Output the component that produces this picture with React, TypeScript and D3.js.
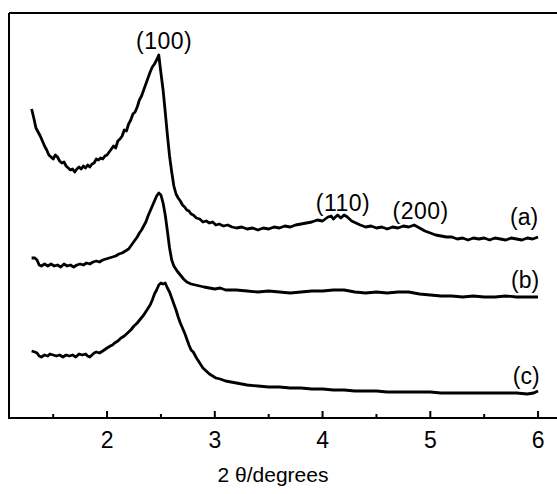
import React from 'react'
import * as d3 from 'd3'

// 2θ (degrees) and intensity (a.u.)
const thetaA = [1.30,1.32,1.34,1.36,1.38,1.40,1.42,1.44,1.46,1.48,1.50,1.52,1.54,1.56,1.58,1.60,1.62,1.64,1.66,1.68,1.70,1.72,1.74,1.76,1.78,1.80,1.82,1.84,1.86,1.88,1.90,1.92,1.94,1.96,1.98,2.00,2.02,2.04,2.06,2.08,2.10,2.12,2.14,2.16,2.18,2.20,2.22,2.24,2.26,2.28,2.30,2.32,2.34,2.36,2.38,2.40,2.42,2.44,2.46,2.48,2.50,2.52,2.54,2.56,2.58,2.60,2.62,2.64,2.66,2.68,2.70,2.72,2.74,2.76,2.78,2.80,2.83,2.86,2.89,2.92,2.95,2.98,3.01,3.04,3.08,3.12,3.16,3.20,3.25,3.30,3.35,3.40,3.45,3.50,3.55,3.60,3.65,3.70,3.75,3.80,3.85,3.90,3.95,4.00,4.05,4.08,4.10,4.14,4.17,4.20,4.23,4.27,4.31,4.35,4.40,4.45,4.50,4.55,4.60,4.65,4.70,4.75,4.80,4.85,4.90,4.95,5.00,5.05,5.10,5.15,5.20,5.25,5.30,5.35,5.40,5.45,5.50,5.55,5.60,5.65,5.70,5.75,5.80,5.85,5.90,5.95,6.00]
const countsA = [309,300,290,286,282,277,272,268,263,261,259,263,261,257,255,256,252,250,248,249,246,249,251,249,252,250,253,251,254,255,259,258,260,259,262,263,266,269,272,270,277,279,282,288,287,294,298,304,306,311,318,322,328,334,340,346,351,354,358,363,345,328,306,283,262,246,232,224,220,217,213,211,208,207,204,203,200,199,196,197,195,196,193,194,192,193,191,190,191,189,190,188,190,189,191,190,192,191,193,194,195,196,198,197,201,202,199,203,200,203,201,197,195,193,191,192,190,191,189,191,190,192,191,193,190,187,185,183,182,181,181,179,180,178,180,179,180,178,180,179,178,180,179,178,180,179,181]

const thetaB = [1.30,1.33,1.35,1.37,1.39,1.42,1.45,1.48,1.51,1.54,1.57,1.60,1.63,1.66,1.69,1.72,1.75,1.78,1.81,1.84,1.87,1.90,1.93,1.96,1.99,2.02,2.05,2.08,2.11,2.14,2.17,2.20,2.22,2.24,2.26,2.28,2.30,2.32,2.34,2.36,2.38,2.40,2.42,2.44,2.46,2.48,2.50,2.52,2.54,2.56,2.58,2.60,2.62,2.65,2.68,2.71,2.74,2.78,2.82,2.86,2.90,2.95,3.00,3.05,3.10,3.20,3.30,3.40,3.50,3.60,3.70,3.80,3.90,4.00,4.10,4.20,4.30,4.40,4.50,4.60,4.70,4.80,4.90,5.00,5.10,5.20,5.30,5.40,5.50,5.60,5.70,5.80,5.90,6.00]
const countsB = [160,160,158,153,152,154,152,154,152,153,151,154,152,153,151,153,154,153,155,154,156,157,156,158,159,160,161,162,164,165,167,169,172,175,178,181,185,188,192,196,202,207,212,217,222,225,223,215,203,187,170,158,152,147,143,139,136,134,133,132,131,130,129,130,128,128,127,126,127,126,125,126,127,127,128,128,126,125,126,125,126,126,124,123,122,122,121,122,121,121,122,121,121,121]

const thetaC = [1.30,1.33,1.35,1.37,1.39,1.42,1.45,1.47,1.50,1.53,1.56,1.59,1.62,1.65,1.68,1.71,1.74,1.77,1.80,1.82,1.84,1.86,1.88,1.90,1.93,1.96,2.00,2.03,2.05,2.07,2.10,2.13,2.16,2.19,2.22,2.25,2.28,2.31,2.34,2.37,2.40,2.42,2.44,2.46,2.48,2.50,2.52,2.54,2.56,2.58,2.60,2.62,2.64,2.66,2.68,2.70,2.72,2.74,2.76,2.78,2.80,2.83,2.86,2.89,2.92,2.95,2.98,3.01,3.05,3.10,3.15,3.20,3.25,3.30,3.40,3.50,3.60,3.70,3.80,3.90,4.00,4.10,4.20,4.30,4.40,4.50,4.60,4.70,4.80,4.90,5.00,5.10,5.20,5.30,5.40,5.50,5.60,5.70,5.80,5.90,5.96,6.00]
const countsC = [67,66,65,62,61,63,62,64,63,62,63,61,63,62,63,61,64,63,64,62,61,63,65,66,65,67,70,72,73,75,77,80,82,85,88,92,95,99,103,108,113,118,124,128,133,135,134,135,130,126,120,114,108,101,95,90,85,79,73,68,66,60,55,50,47,44,42,40,39,37,36,35,34,33,32,31,31,30,30,29,29,28,28,27,27,27,26,26,26,26,26,25,25,25,25,25,25,25,25,24,25,27]

const tickValues = [2, 3, 4, 5, 6]
const minorTicks = [1.5, 2.5, 3.5, 4.5, 5.5]

const curveLabels = [
  { text: '(a)', theta: 5.87, counts: 193 },
  { text: '(b)', theta: 5.88, counts: 130 },
  { text: '(c)', theta: 5.89, counts: 34 },
]
const peakLabels = [
  { text: '(100)', theta: 2.53, counts: 369 },
  { text: '(110)', theta: 4.19, counts: 207 },
  { text: '(200)', theta: 4.91, counts: 199 },
]

const W = 557
const H = 494
const FONT = '"Liberation Sans", Arial, sans-serif'

export default function App() {
  const x = d3.scaleLinear().domain([1.09, 6.25]).range([9, 565])
  const y = d3.scaleLinear().domain([0, 405]).range([418, 13])

  const line = d3
    .line<[number, number]>()
    .x((d) => x(d[0]))
    .y((d) => y(d[1]))

  const series = [
    d3.zip(thetaA, countsA),
    d3.zip(thetaB, countsB),
    d3.zip(thetaC, countsC),
  ] as [number, number][][]

  const y0 = y(0)

  return (
    <svg
      width={W}
      height={H}
      style={{ position: 'absolute', left: 0, top: 0, background: '#fff' }}
      fontFamily={FONT}
    >
      {/* frame */}
      <line x1={x(1.09)} x2={W} y1={y(405)} y2={y(405)} stroke="#000" strokeWidth={2} />
      <line x1={x(1.09)} x2={x(1.09)} y1={y(405)} y2={y0} stroke="#000" strokeWidth={2} />
      <line x1={x(1.09) - 1} x2={W} y1={y0} y2={y0} stroke="#000" strokeWidth={2} />

      {tickValues.map((t) => (
        <g key={t}>
          <line x1={x(t)} x2={x(t)} y1={y0} y2={y0 - 7} stroke="#000" strokeWidth={2} />
          <text x={x(t)} y={448} textAnchor="middle" fontSize={23}>
            {t}
          </text>
        </g>
      ))}
      {minorTicks.map((t) => (
        <line key={t} x1={x(t)} x2={x(t)} y1={y0} y2={y0 - 4} stroke="#000" strokeWidth={2} />
      ))}

      {series.map((s, i) => (
        <path
          key={i}
          d={line(s) ?? ''}
          fill="none"
          stroke="#000"
          strokeWidth={2.8}
          strokeLinejoin="round"
        />
      ))}

      {peakLabels.map((l) => (
        <text key={l.text} x={x(l.theta)} y={y(l.counts)} textAnchor="middle" fontSize={23} letterSpacing={0.5}>
          {l.text}
        </text>
      ))}
      {curveLabels.map((l) => (
        <text key={l.text} x={x(l.theta)} y={y(l.counts)} textAnchor="middle" fontSize={23}>
          {l.text}
        </text>
      ))}

      <text x={273} y={482} textAnchor="middle" fontSize={21}>
        2 θ/degrees
      </text>
    </svg>
  )
}
